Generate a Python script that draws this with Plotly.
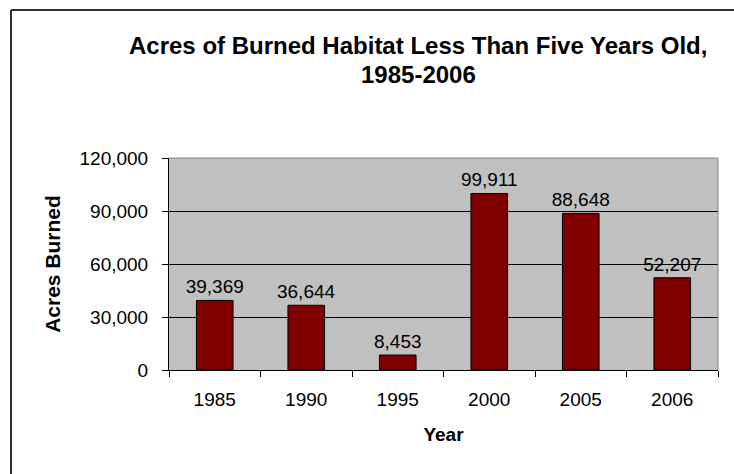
import plotly.graph_objects as go

# Acres of burned habitat less than five years old
years = ["1985", "1990", "1995", "2000", "2005", "2006"]
acres = [39369, 36644, 8453, 99911, 88648, 52207]
y_ticks = [0, 30000, 60000, 90000, 120000]
title_lines = ["Acres of Burned Habitat Less Than Five Years Old,", "1985-2006"]

W, H = 734, 474
M = dict(l=169, r=16, t=158, b=104)
pw = W - M["l"] - M["r"]
ph = H - M["t"] - M["b"]


def px_x(p):
    return (p - M["l"]) / pw


def px_y(p):
    return (H - M["b"] - p) / ph


font_family = "Arial, Liberation Sans, sans-serif"

fig = go.Figure(
    go.Bar(
        x=years,
        y=acres,
        width=0.4,
        marker=dict(color="#800000", line=dict(color="#000000", width=1)),
        text=[f"{v:,}" for v in acres],
        textposition="outside",
        constraintext="none",
        textfont=dict(family=font_family, size=19, color="#000000"),
        cliponaxis=False,
    )
)

# two-line chart title, each line placed on its own
title_y = [46, 74]
annotations = [
    dict(text=f"<b>{line}</b>", xref="paper", yref="paper",
         x=px_x(418), y=px_y(yy), xanchor="center", yanchor="middle",
         showarrow=False, font=dict(family=font_family, size=24, color="#000000"))
    for line, yy in zip(title_lines, title_y)
]

fig.update_layout(
    width=W,
    height=H,
    margin=M,
    paper_bgcolor="#FFFFFF",
    plot_bgcolor="#C0C0C0",
    showlegend=False,
    font=dict(family=font_family, color="#000000"),
    annotations=annotations,
    xaxis=dict(
        type="category",
        showgrid=False,
        showline=True,
        linecolor="#000000",
        linewidth=1,
        ticks="outside",
        tickson="boundaries",
        ticklen=6,
        tickcolor="#000000",
        tickfont=dict(size=19),
        ticklabelstandoff=12,
        title=dict(text="<b>Year</b>", font=dict(size=19), standoff=18),
        zeroline=False,
    ),
    yaxis=dict(
        range=[0, 120000],
        tickvals=y_ticks,
        tickformat=",",
        showgrid=True,
        gridcolor="#000000",
        gridwidth=1,
        showline=True,
        linecolor="#000000",
        linewidth=1,
        ticks="outside",
        ticklen=6,
        tickcolor="#000000",
        tickfont=dict(size=19),
        ticklabelstandoff=10,
        title=dict(text="<b>Acres Burned</b>", font=dict(size=21), standoff=13),
        zeroline=False,
    ),
    shapes=[
        # grey frame on the top and right of the plotting area
        dict(type="line", xref="paper", yref="paper", x0=0, x1=1, y0=1, y1=1,
             line=dict(color="#808080", width=1)),
        dict(type="line", xref="paper", yref="paper", x0=1, x1=1, y0=0, y1=1,
             line=dict(color="#808080", width=1)),
        # chart area border
        dict(type="line", xref="paper", yref="paper",
             x0=px_x(11), x1=px_x(11), y0=px_y(10), y1=px_y(H + 20),
             line=dict(color="#303030", width=2)),
        dict(type="line", xref="paper", yref="paper",
             x0=px_x(11), x1=px_x(W + 20), y0=px_y(10), y1=px_y(10),
             line=dict(color="#303030", width=2)),
    ],
)

fig.write_html("out.html")
